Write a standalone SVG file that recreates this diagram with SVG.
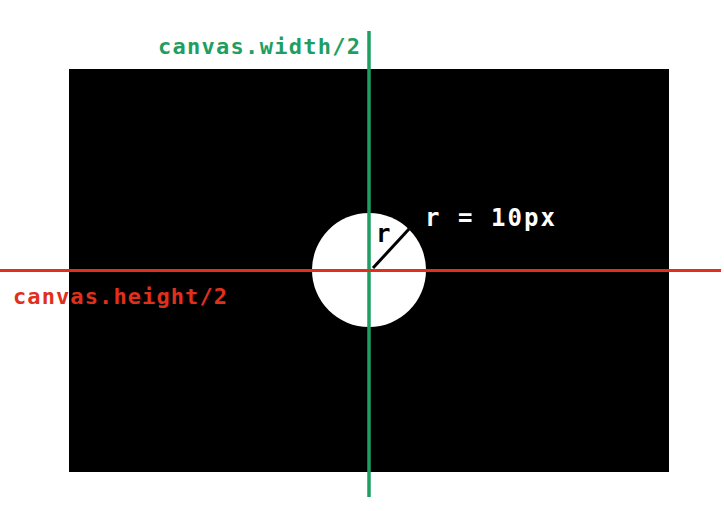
<svg xmlns="http://www.w3.org/2000/svg" width="724" height="511" viewBox="0 0 724 511">
<style>
.lbl{font-family:"DejaVu Sans Mono","Liberation Mono",monospace;font-weight:bold;}
</style>
<rect width="724" height="511" fill="#ffffff"/>
<g id="canvas">
<rect x="69" y="69" width="600" height="403" fill="#000000"/>
</g>
<g id="circle">
<circle cx="369" cy="270" r="57" fill="#ffffff"/>
</g>
<g id="connectors">
<line x1="369" y1="31" x2="369" y2="497" stroke="#1e9e62" stroke-width="3.5"/>
<line x1="0" y1="270.5" x2="721" y2="270.5" stroke="#e0301c" stroke-width="3"/>
<line x1="373" y1="268" x2="409" y2="229" stroke="#000000" stroke-width="3"/>
</g>
<g id="labels">
<text class="lbl" x="158" y="54" font-size="22" fill="#1e9e62" textLength="202" lengthAdjust="spacing">canvas.width/2</text>
<text class="lbl" x="13" y="304" font-size="22" fill="#e0301c" textLength="214" lengthAdjust="spacing">canvas.height/2</text>
<text class="lbl" x="376" y="242" font-size="24" fill="#000000">r</text>
<text class="lbl" x="425" y="226" font-size="24" fill="#ffffff" textLength="130" lengthAdjust="spacing">r = 10px</text>
</g>
</svg>
